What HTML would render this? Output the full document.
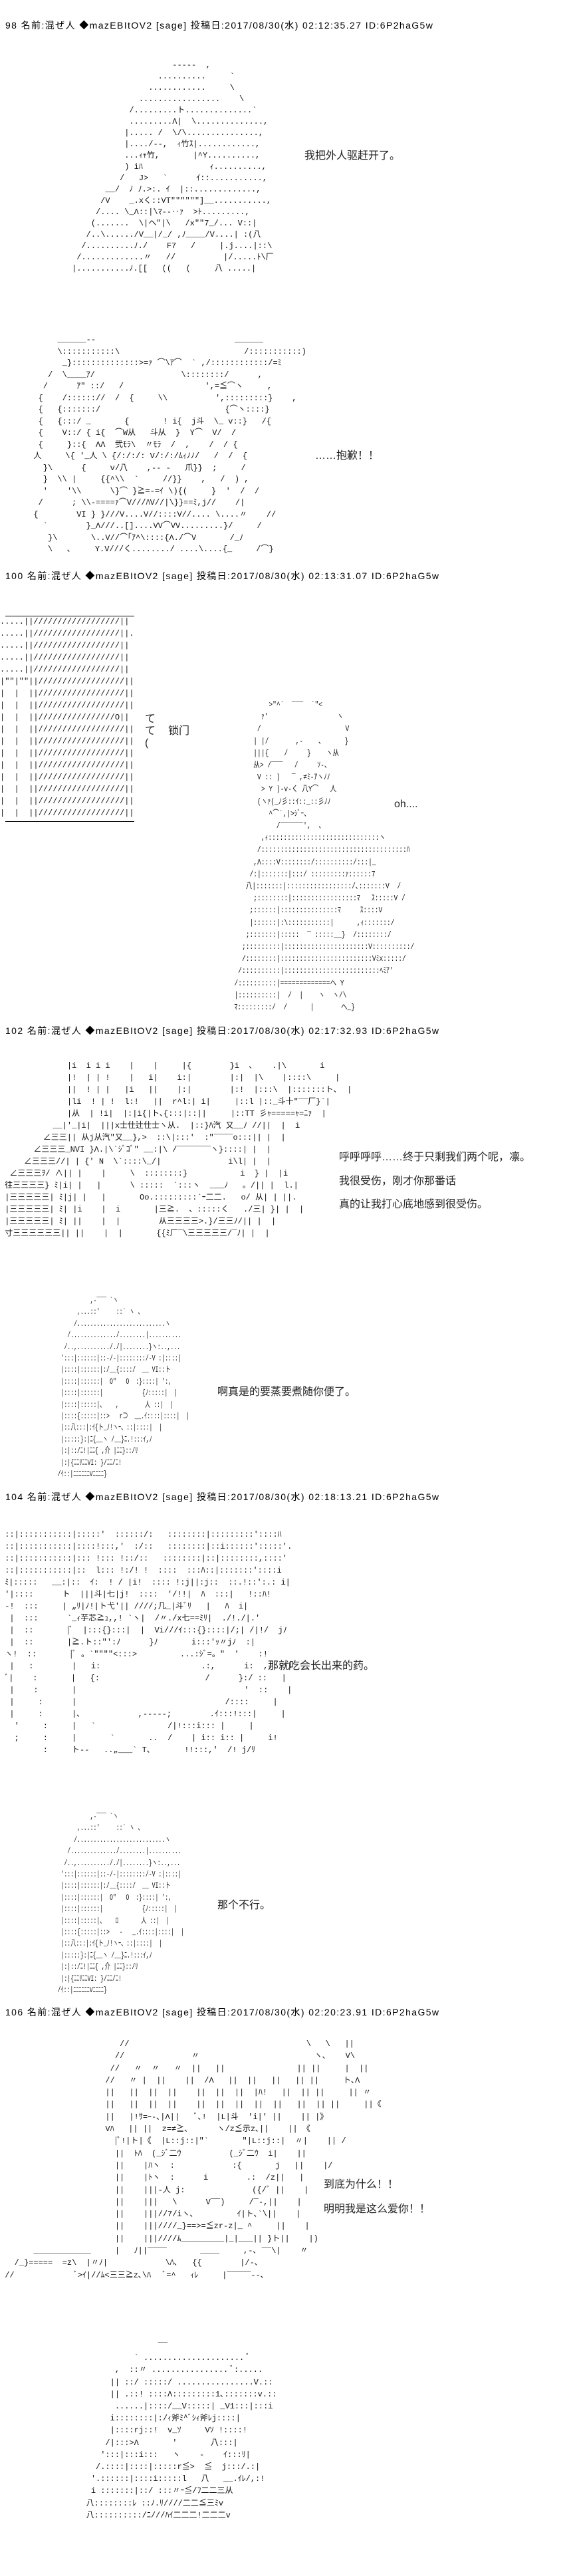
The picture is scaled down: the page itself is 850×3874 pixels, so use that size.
<!DOCTYPE html>
<html><head><meta charset="utf-8">
<style>
body{margin:0;background:#fff;width:850px;height:3874px;position:relative;overflow:hidden;color:#000}
.h{position:absolute;left:8px;font:14px/16px "Liberation Sans","Noto Sans CJK JP",sans-serif;white-space:nowrap;letter-spacing:1.4px}
.a{position:absolute;left:0;margin:0;font:12px/18px "Liberation Mono","Noto Sans CJK JP",monospace;white-space:pre;color:#111}
.t{position:absolute;font:16px/18px "Liberation Sans","Noto Sans CJK SC",sans-serif;white-space:nowrap;color:#222}
.ln{position:absolute;height:1px;background:#000}
.face{transform:scaleX(0.68);transform-origin:87px 0}
.ch{transform:scaleX(0.8);transform-origin:351px 0}
</style></head><body>

<div class="h" style="top:30px">98 名前:混ぜ人 ◆mazEBItOV2 [sage] 投稿日:2017/08/30(水) 02:12:35.27 ID:6P2haG5w</div>
<pre class="a" style="top:90px;line-height:17px">                                    -----  ,
                                 ..........     `
                               ............     \
                             .................    \
                           /.........ト..............`
                           .........Λ|  \..............,
                          |..... /  \/\...............,
                          |..../--,  ｨ竹ｽ|............,
                          ...ｨｬ竹,       |^Y..........,
                          ) iﾊ              ｨ..........,
                         /   J&gt;   `      ｲ::...........,
                      __/  ﾉ ﾉ.&gt;:. ｲ  |::.............,
                     /V    _.xく::VT""""""]__...........,
                    /.... \_Λ::|\ﾏ--‥ｧ  &gt;ﾄ.........,
                   (.......  \|ヘ"|\   /x""7_/... V::|
                  /..\....../V__|/_/ ,ﾉ____/V....| :(八
                 /..........ﾉ./    F7   /     |.j....|::\
                /.............〃   //          |/.....ﾄ\厂
               |...........ﾉ.[[   ((   (     八 .....|</pre>
<div class="t" style="left:458px;top:226px">我把外人驱赶开了。</div>

<pre class="a" style="top:503px;line-height:17.5px">            ______--                             ______
            \:::::::::::\                          /:::::::::::)
             _}::::::::::::::&gt;=ｧ ⌒\ｱ⌒  ` ,/::::::::::::/=ﾐ
          /  \____ｱ/                  \::::::::/      ,
         /      ｱ" ::/   /                 ',=≦⌒ヽ     ,
        {    /:::::://  /  {     \\          ',:::::::::}    ,
        {   {:::::::/                          {⌒ヽ::::}
        {   {:::/ _       {       ! i{  j斗  \_ v::}   /{
        {    V::/ { i{  ⌒W从   斗从  }  Y⌒  V/  /
        {     }::{  ΛΛ  弐ﾓﾗ\  〃ﾓﾗ  /  ,    /  / {
       人     \{ '_人 \ {/:/:/: V/:/:/ﾑｨﾉﾉ/   /  /  {
         }\      {     v/八    ,-- -   爪}}  ;     /
         }  \\ |     {{^\\  `     //}}    ,   /  ) ,
         '    '\\      \}⌒ }≧=-=ｲ \){(     }  '  /  /
        /      ; \\-====ｧ⌒V///ﾊV//|\}}==ﾐ,j//    /|
       {        VI } }///V....V//::::V//.... \....〃    //
         `        }_Λ///..[]....VV⌒VV.........}/     /
          }\       \..V//⌒｢ｱ^\::::{Λ./⌒V       /_ﾉ
          \   ､     Y.V///く......../ ....\....{_     /⌒}</pre>
<div class="t" style="left:474px;top:677px">……抱歉！！</div>

<div class="h" style="top:858px">100 名前:混ぜ人 ◆mazEBItOV2 [sage] 投稿日:2017/08/30(水) 02:13:31.07 ID:6P2haG5w</div>
<div class="ln" style="left:8px;top:926px;width:194px"></div>
<pre class="a" style="top:926px">.....||//////////////////||
.....||//////////////////||.
.....||//////////////////||
.....||//////////////////||
.....||//////////////////||
|""|""||//////////////////||
|  |  ||//////////////////||
|  |  ||//////////////////||
|  |  ||////////////////O||
|  |  ||//////////////////||
|  |  ||//////////////////||
|  |  ||//////////////////||
|  |  ||//////////////////||
|  |  ||//////////////////||
|  |  ||//////////////////||
|  |  ||//////////////////||
|  |  ||//////////////////||</pre>
<div class="ln" style="left:8px;top:1235px;width:194px"></div>
<div class="t" style="left:218px;top:1073px;line-height:18px">て<br>て<br>(</div>
<div class="t" style="left:253px;top:1091px">锁门</div>
<pre class="a ch" style="top:1051px;line-height:18.2px">                                                          &gt;"^`  ‾‾‾  `"&lt;
                                                        ｧ'                  ヽ
                                                       /                      V
                                                      | |/       ,-    ､      }
                                                      |||{    /     }    ヽ从
                                                      从&gt; /‾‾‾   /     ｿ-、
                                                       V :: )   ‾ ,≠ﾐ-ｱヽﾉﾉ
                                                        &gt; Y )-v-く 八Y⌒   人
                                                       (ヽｧ(_ﾉ彡::ｲ::_::彡ﾉﾉ
                                                          ^⌒`,|&gt;ｼﾞｰ、
                                                            /‾‾‾‾‾‾',  、
                                                        ,ｨ:::::::::::::::::::::::::::::ヽ
                                                       /::::::::::::::::::::::::::::::::::::::ﾊ
                                                      ,Λ::::V::::::::/::::::::::/:::|_
                                                     /:|:::::::|:::/ :::::::::ｧ::::::7
                                                    八|:::::::|:::::::::::::::::/､:::::::V  /
                                                      ;::::::::|:::::::::::::::::ﾏ   ｽ:::::V /
                                                     ;::::::|:::::::::::::::ﾏ     ｽ::::V
                                                     |::::::|:\:::::::::::|      ,ｨ:::::::/
                                                    ;:::::::|:::::  ‾ :::::__}  /::::::::/
                                                   ;:::::::::|::::::::::::::::::::::V::::::::::/
                                                   /::::::::|::::::::::::::::::::::::Vﾐx:::::/
                                                  /::::::::::|:::::::::::::::::::::::::ﾍﾐｱ'
                                                 /::::::::::|=============ヘ Y
                                                 |::::::::::|  /  |    ヽ  ヽ/\
                                                 ﾏ:::::::::/  /      |       ヘ_}</pre>
<div class="t" style="left:593px;top:1201px">oh....</div>

<div class="h" style="top:1542px">102 名前:混ぜ人 ◆mazEBItOV2 [sage] 投稿日:2017/08/30(水) 02:17:32.93 ID:6P2haG5w</div>
<pre class="a" style="top:1594px">              |i  i i i    |    |     |{        }i  ､    .|\       i
              |!  | | !    |   i|    i:|        |:|  |\    |::::\     |
              ||  ! | |   |i   ||    |:|        |:!  |:::\  |:::::::ト､  |
              |li  ! | !  l:!   ||  r^l:| i|     |::l |::_斗十"‾‾厂}`|
              |从  | !i|  |:|i{|ト､{:::|::||     |::TT 彡ｬ=====ｬ=ﾆｧ  |
           __|'_|i|  |||x士仕辻仕士ヽ从.  |::}ﾊ汽 又__ﾉ //||  |  i
         ∠三三|| 从j从汽"又__},&gt;  ::\|:::'  :"‾‾‾‾o:::|| |  |
       ∠三三三_NVI }Λ.|\`ｼﾞｺﾞ" __:|\ /‾‾‾‾‾‾‾ヽ}::::| |  |
     ∠三三三//| | {' N  \`::::\_/|              i\l| |  |
  ∠三三三ｦ/ ∧|| |    |     \  ::::::::}           i  } |  |i
 往三三三三} ﾐ|i| |   |      \ :::::  `:::ヽ  ___ﾉ   。/|| |  l.|
 |三三三三三| ﾐ|j| |   |       Oo.:::::::::`ｰ二二.   o/ 从| | ||.
 |三三三三三| ﾐ| |i    |  i       |三≧.  、:::::く   ./三| }| |  |
 |三三三三三| ﾐ| ||    |  |        从三三三三&gt;.}/三三ﾉ/|| |  |
 寸三三三三三三|| ||    |  |       {{ﾐ厂‾\三三三三三/‾ﾉ| |  |</pre>
<div class="t" style="left:510px;top:1723px;line-height:35.5px">呼呼呼呼……终于只剩我们两个呢，凛。<br>我很受伤，刚才你那番话<br>真的让我打心底地感到很受伤。</div>

<pre class="a face" style="top:1948px;line-height:17.4px">                      ,-‾‾‾ `ヽ
                  ,...::'     ::` ヽ 、
                 /...........................ヽ
               /............../........|..........
              /..,.........././|........}ヽ:..,...
             ':::|::::::|::-/-|::::::::/-V :|::::|
             |::::|::::::|:/__{::::/  __ VI::ト
             |::::|::::::|  O"   O  :}::::| ':,
             |::::|::::::|            {ﾉ:::::|  |
             |::::|:::::|､    ,        人 ::|  |
             |::::{:::::|::&gt;   r⊃  __.ｲ::::|::::|  |
             |::八:::|:ｲ{ト_ﾉ!ヽｰ、::|::::|  |
             |:::::}:|ﾆ{__ヽ /__}ﾆ.!:::ｲ,ﾉ
             |:|::/ﾆ!|ﾆﾆ{ ,介 |ﾆﾆ}::/ﾘ
             |:|{ﾆﾆﾘﾆﾆVI: }/ﾆﾆ/ﾆ!
            /ｲ::|ﾆﾆﾆﾆﾆﾆVﾆﾆﾆﾆ}</pre>
<div class="t" style="left:327px;top:2085px">啊真是的要蒸要煮随你便了。</div>

<div class="h" style="top:2243px">104 名前:混ぜ人 ◆mazEBItOV2 [sage] 投稿日:2017/08/30(水) 02:18:13.21 ID:6P2haG5w</div>
<pre class="a" style="top:2299px"> ::|:::::::::::|:::::'  ::::::/:   ::::::::|:::::::::'::::ﾊ
 ::|:::::::::::|::::!:::,'  :/::   ::::::::|::i::::::':::::'.
 ::|:::::::::::|::: !::: !::/::   ::::::::|::|::::::::,::::'
 ::|:::::::::::|::  l::: !:/! !  ::::  :::ﾊ::|:::::::'::::i
 ﾐ|:::::   __:|::  ｲ:  ! / |i!  :::: !:j||:j::  ::.!::':.: i|
 '|::::      ト  |||斗|七|j!  ::::  '/!!|  ﾊ  :::|   !::ﾊ!
 -!  :::     | „ﾘ|ﾉ!|ト弋'|| ////;几_|斗ﾞﾘ   |   ﾊ  i|
  |  :::      `_ｨ芋芯≧ｭ,,! `ヽ|  /〃./x七==ﾐﾘ|  ./!./|.'
  |  ::       |ﾞ  |:::{}:::|  |  Vi///ｲ:::{}::::|/;| /|!/  jﾉ
  |  ::       |≧.ト::"':ﾉ      }ﾉ       i:::'ｯ〃jﾉ  :|
 ヽ!  ::       |ﾞ 。`""""&lt;:::&gt;         ...:ｼﾞ=。"  '    :!
  |   :        |   i:                     .:,      i:  ,::::|
 ﾞ|    :       |   {:                      /      }:/ ::   |
  |    :       |                                   '  ::    |
  |     :      |                               /::::     |
  |     :      |､            ,-----;        .ｲ:::!:::|     |
   '     :     |   `               /|!:::i::: |     |
   ;     :     |       `       ..  /    | i:: i:: |     i!
         :     ト--   ..„___` T､       !!:::,'  /! j/ﾘ</pre>
<div class="t" style="left:403px;top:2497px">那就吃会长出来的药。</div>

<pre class="a face" style="top:2724px;line-height:17.4px">                      ,-‾‾‾ `ヽ
                  ,...::'     ::` ヽ 、
                 /...........................ヽ
               /............../........|..........
              /..,.........././|........}ヽ:..,...
             ':::|::::::|::-/-|::::::::/-V :|::::|
             |::::|::::::|:/__{::::/  __ VI::ト
             |::::|::::::|  O"   O  :}::::| ':,
             |::::|::::::|            {ﾉ:::::|  |
             |::::|:::::|､    ﾛ       人 ::|  |
             |::::{:::::|::&gt;   -   _.ｲ::::|::::|  |
             |::八:::|:ｲ{ト_ﾉ!ヽｰ、::|::::|  |
             |:::::}:|ﾆ{__ヽ /__}ﾆ.!:::ｲ,ﾉ
             |:|::/ﾆ!|ﾆﾆ{ ,介 |ﾆﾆ}::/ﾘ
             |:|{ﾆﾆﾘﾆﾆVI: }/ﾆﾆ/ﾆ!
            /ｲ::|ﾆﾆﾆﾆﾆﾆVﾆﾆﾆﾆ}</pre>
<div class="t" style="left:327px;top:2857px">那个不行。</div>

<div class="h" style="top:3018px">106 名前:混ぜ人 ◆mazEBItOV2 [sage] 投稿日:2017/08/30(水) 02:20:23.91 ID:6P2haG5w</div>
<pre class="a" style="top:3065px;line-height:18.3px">                         //                                     \   \   ||
                        //              〃                        ヽ､    V\
                       //   〃  〃   〃  ||   ||               || ||     |  ||
                      //   〃 |  ||    ||  /Λ   ||  ||   ||   || ||     ト､Λ
                      ||   ||  ||  ||    ||  ||  ||  |ﾊ!   ||  || ||     || 〃
                      ||   ||  ||  ||    ||  ||  ||  ||  ||   ||  || ||     ||《
                      ||   |!ｻ=ｰ-､|Λ||   ﾞ､!  |L|斗  'i|' ||    || |》
                      Vﾊ   || ||  z=≠≧､      ヽ/z≦示z､||    || 《
                        |ﾞ!|ト|《  |L::j::|"`       "|L::j::|  〃|    || /
                        ||  ﾄﾊ  (_ｼﾞ二ｳ          (_ｼﾞ二ｳ  i|    ||
                        ||    |ﾊヽ  :            :{       j   ||    |/
                        ||    |ﾄヽ  :      i        .:  /z||   |
                        ||    |||-人 j:              ({/ﾞ ||    |
                        ||    |||   \      V‾‾)     /‾-,||    |
                        ||    |||//7/iヽ､         ｲ|ト､`\||    |
                        ||    |||////_}==&gt;=≦zr-z|_ ^     ||    |
                        ||    |||////ﾑ_________|_|___|| }ト||    |)
       ____________     |   ﾉ||‾‾‾‾       ____     ,-､ ‾‾\|    〃
   /_}=====  =z\  |〃ﾉ|            \ﾊ､   {{        |/-､
 //             ﾞ&gt;ｲ|//ﾑ&lt;三三≧z､\ﾊ   ﾞ=^   ｨﾚ     |‾‾‾‾‾--､</pre>
<div class="t" style="left:487px;top:3267px;line-height:37px">到底为什么！！<br>明明我是这么爱你！！</div>

<pre class="a" style="top:3519px;line-height:18.2px">                                 ‾‾
                            ` ..................... ﾞ
                        ,  ::〃 ................ ﾞ:.....
                       || ::/ :::::/ ................V.::
                       || .::! ::::Λ:::::::::1､:::::::v.::
                        ......|::::/__V:::::| _V1:::|:::i
                       i::::::::|:/ｨ斧ﾐ^ﾞｼｨ斧ﾚj::::|
                       |::::rj::!  v_ｿ     Vｿ !::::!
                      /|:::&gt;Λ       '       八:::|
                     ':::|:::i:::   ヽ    -    ｲ:::ﾘ|
                    /.::::|::::|:::::r≦&gt;  ≦  j:::/.:|
                   '.::::::|::::i:::::l   八   __.ｲﾚ/,:!
                   i :::::::|::/ :::〃ｰ≦/ﾌ二二三从
                  八::::::::ﾚ ::ﾉ.ﾘ////二二≦三ﾐv
                  八::::::::::/ﾆ///ﾊｲ二二二!二二二v
